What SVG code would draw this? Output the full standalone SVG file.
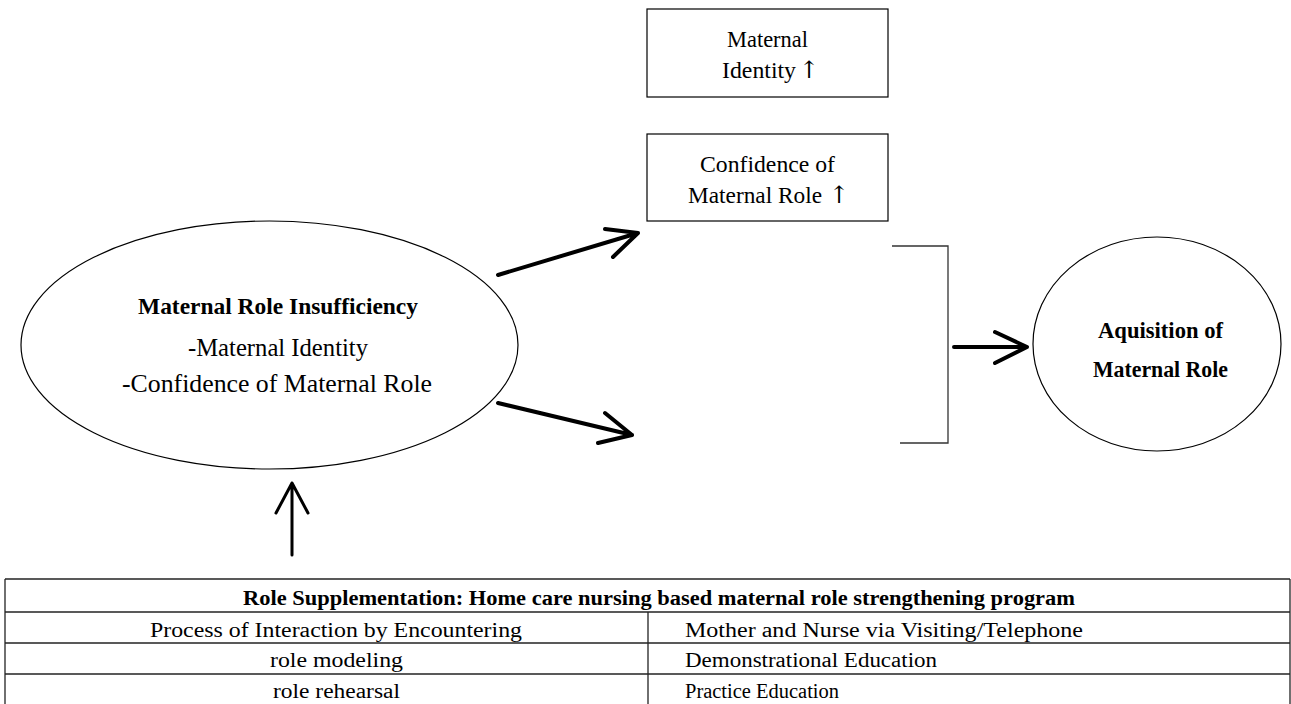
<svg xmlns="http://www.w3.org/2000/svg" width="1291" height="704" viewBox="0 0 1291 704">
<style>
  text { font-family: "Liberation Serif", "Times New Roman", serif; fill: #000; }
  .b { font-weight: bold; }
  .ar { font-family: "DejaVu Serif", "Liberation Serif", serif; font-size: 24px; text-anchor: middle; }
  .shape { fill: #fff; stroke: #000; stroke-width: 1.2; }
  .arrow { fill: none; stroke: #000; stroke-width: 4; stroke-linecap: round; stroke-linejoin: round; }
  .thin { fill: none; stroke: #000; stroke-width: 3; stroke-linecap: round; stroke-linejoin: round; }
  .grid { stroke: #222; stroke-width: 1.3; fill: none; }
  .bracket { stroke: #333; stroke-width: 1.3; fill: none; }
</style>
<rect x="0" y="0" width="1291" height="704" fill="#fff"/>

<g id="node-insufficiency">
  <ellipse class="shape" cx="269.5" cy="345" rx="248.5" ry="124"/>
  <text class="b" x="138" y="314" font-size="24" textLength="280" lengthAdjust="spacingAndGlyphs">Maternal Role Insufficiency</text>
  <text x="188" y="356" font-size="24.5" textLength="180" lengthAdjust="spacingAndGlyphs">-Maternal Identity</text>
  <text x="122" y="392" font-size="24.5" textLength="310" lengthAdjust="spacingAndGlyphs">-Confidence of Maternal Role</text>
</g>

<g id="node-identity">
  <rect class="shape" x="647" y="9" width="241" height="88"/>
  <text x="727" y="47" font-size="22.5" textLength="81" lengthAdjust="spacingAndGlyphs">Maternal</text>
  <text x="722" y="78" font-size="22.5" textLength="74" lengthAdjust="spacingAndGlyphs">Identity</text>
  <text class="ar" x="809" y="78">↑</text>
</g>

<g id="node-confidence">
  <rect class="shape" x="647" y="134" width="241" height="87"/>
  <text x="700" y="172" font-size="22.5" textLength="135" lengthAdjust="spacingAndGlyphs">Confidence of</text>
  <text x="688" y="203" font-size="22.5" textLength="134" lengthAdjust="spacingAndGlyphs">Maternal Role</text>
  <text class="ar" x="839" y="203">↑</text>
</g>

<g id="node-acquisition">
  <ellipse class="shape" cx="1157" cy="344" rx="124" ry="107"/>
  <text class="b" x="1098" y="338" font-size="22.5" textLength="125" lengthAdjust="spacingAndGlyphs">Aquisition of</text>
  <text class="b" x="1093" y="377" font-size="22.5" textLength="135" lengthAdjust="spacingAndGlyphs">Maternal Role</text>
</g>

<g id="node-program">
  <line class="grid" x1="5" y1="579" x2="1290" y2="579"/>
  <line class="grid" x1="5" y1="612" x2="1290" y2="612"/>
  <line class="grid" x1="5" y1="643" x2="1290" y2="643"/>
  <line class="grid" x1="5" y1="674" x2="1290" y2="674"/>
  <line class="grid" x1="5" y1="579" x2="5" y2="704"/>
  <line class="grid" x1="1290" y1="579" x2="1290" y2="704"/>
  <line class="grid" x1="648" y1="612" x2="648" y2="704"/>
  <text class="b" x="243" y="605" font-size="20.5" textLength="832" lengthAdjust="spacingAndGlyphs">Role Supplementation: Home care nursing based maternal role strengthening program</text>
  <text x="150" y="637" font-size="20.5" textLength="372" lengthAdjust="spacingAndGlyphs">Process of Interaction by Encountering</text>
  <text x="685" y="637" font-size="20.5" textLength="398" lengthAdjust="spacingAndGlyphs">Mother and Nurse via Visiting/Telephone</text>
  <text x="270" y="667" font-size="20.5" textLength="133" lengthAdjust="spacingAndGlyphs">role modeling</text>
  <text x="685" y="667" font-size="20.5" textLength="252" lengthAdjust="spacingAndGlyphs">Demonstrational Education</text>
  <text x="273" y="698" font-size="20.5" textLength="127" lengthAdjust="spacingAndGlyphs">role rehearsal</text>
  <text x="685" y="698" font-size="20.5" textLength="154" lengthAdjust="spacingAndGlyphs">Practice Education</text>
</g>

<g id="connectors">
  <path class="arrow" d="M498 275 L638 233 M605 229 L638 233 L613 257"/>
  <path class="arrow" d="M498 403 L632 435 M605 413 L632 435 L598 443"/>
  <path class="bracket" d="M892 246 H948 V443 H900"/>
  <path class="arrow" d="M954 347 H1027 M995 332 L1027 347 L995 363"/>
  <path class="thin" d="M292 555 V483 M276 513 L292 483 L308 513"/>
</g>
</svg>
